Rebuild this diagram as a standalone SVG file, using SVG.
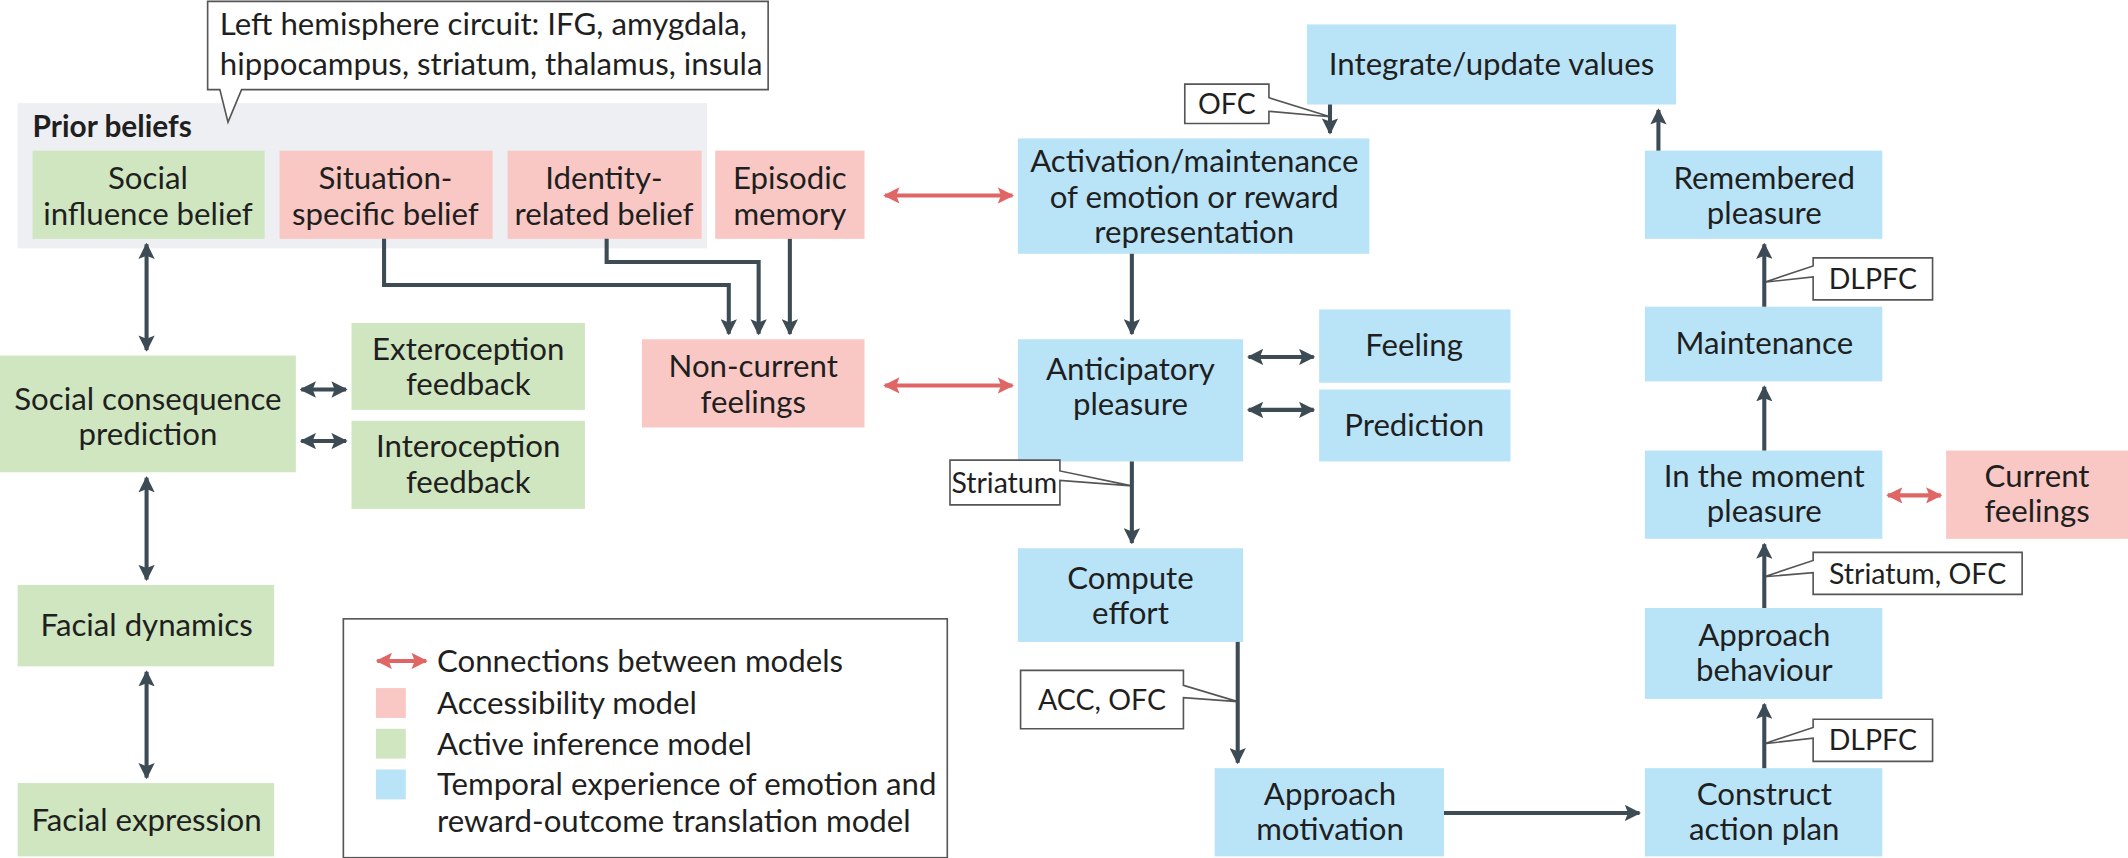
<svg xmlns="http://www.w3.org/2000/svg" width="2128" height="858" viewBox="0 0 2128 858">
<defs>
<style>
text{font-family:Lato,"Open Sans","Liberation Sans",sans-serif;font-size:23px;fill:#1f1f1f;text-anchor:middle}
.g{fill:#cfe6c0}.p{fill:#f9c8c4}.b{fill:#b9e4f8}
.c{fill:#fff;stroke:#555;stroke-width:1.2}
.l{fill:none;stroke:#3d4b55;stroke-width:3}
.r{fill:none;stroke:#e06666;stroke-width:3}
.lt{text-anchor:start}
.s{font-size:21px}
</style>
<marker id="a" viewBox="0 0 10 10" refX="9" refY="5" markerWidth="4" markerHeight="4" orient="auto-start-reverse"><path d="M0,0L10,5L0,10L2,5z" fill="#3d4b55"/></marker>
<marker id="ar" viewBox="0 0 10 10" refX="9" refY="5" markerWidth="4" markerHeight="4" orient="auto-start-reverse"><path d="M0,0L10,5L0,10L2,5z" fill="#e06666"/></marker>
</defs>
<rect width="2128" height="858" fill="#fff"/>
<g transform="scale(1.35714)">
<g id="prior"><rect x="13" y="76" width="508" height="107" fill="#eeeff3"/><text x="24" y="101" class="lt" style="font-weight:bold;font-size:22px">Prior beliefs</text></g>
<g id="callout-left"><path class="c" d="M153,1H566V66H178L168,90L162,66H153Z"/><text x="162" y="26" class="lt">Left hemisphere circuit: IFG, amygdala,</text><text x="162" y="55" class="lt">hippocampus, striatum, thalamus, insula</text></g>
<g id="social-influence"><rect class="g" x="24" y="111" width="171" height="65"/><text x="109" y="139">Social</text><text x="109" y="166">influence belief</text></g>
<g id="situation"><rect class="p" x="206" y="111" width="157" height="65"/><text x="284" y="139">Situation-</text><text x="284" y="166">specific belief</text></g>
<g id="identity"><rect class="p" x="374" y="111" width="143" height="65"/><text x="445" y="139">Identity-</text><text x="445" y="166">related belief</text></g>
<g id="episodic"><rect class="p" x="527" y="111" width="110" height="65"/><text x="582" y="139">Episodic</text><text x="582" y="166">memory</text></g>
<g id="activation"><rect class="b" x="750" y="102" width="259" height="85"/><text x="880" y="127">Activation/maintenance</text><text x="880" y="153">of emotion or reward</text><text x="880" y="179">representation</text></g>
<g id="integrate"><rect class="b" x="963" y="18" width="272" height="59"/><text x="1099" y="55">Integrate/update values</text></g>
<g id="ofc-top"><path class="c" d="M873,62H935V72L980,86L935,82V91H873Z"/><text x="904" y="84" class="s">OFC</text></g>
<g id="social-consequence"><rect class="g" x="0" y="262" width="218" height="86"/><text x="109" y="302">Social consequence</text><text x="109" y="328">prediction</text></g>
<g id="extero"><rect class="g" x="259" y="238" width="172" height="64"/><text x="345" y="265">Exteroception</text><text x="345" y="291">feedback</text></g>
<g id="intero"><rect class="g" x="259" y="310" width="172" height="65"/><text x="345" y="337">Interoception</text><text x="345" y="363">feedback</text></g>
<g id="noncurrent"><rect class="p" x="473" y="250" width="164" height="65"/><text x="555" y="278">Non-current</text><text x="555" y="304">feelings</text></g>
<g id="anticipatory"><rect class="b" x="750" y="250" width="166" height="90"/><text x="833" y="280">Anticipatory</text><text x="833" y="306">pleasure</text></g>
<g id="feeling"><rect class="b" x="972" y="228" width="141" height="54"/><text x="1042" y="262">Feeling</text></g>
<g id="prediction"><rect class="b" x="972" y="287" width="141" height="53"/><text x="1042" y="321">Prediction</text></g>
<g id="striatum"><path class="c" d="M700,339H781V347L834,358L781,354V372H700Z"/><text x="740" y="363" class="s">Striatum</text></g>
<g id="compute"><rect class="b" x="750" y="404" width="166" height="69"/><text x="833" y="434">Compute</text><text x="833" y="460">effort</text></g>
<g id="acc-ofc"><path class="c" d="M752,494H872V505L912,517L872,514V537H752Z"/><text x="812" y="523" class="s">ACC, OFC</text></g>
<g id="approach-motivation"><rect class="b" x="895" y="566" width="169" height="65"/><text x="980" y="593">Approach</text><text x="980" y="619">motivation</text></g>
<g id="construct"><rect class="b" x="1212" y="566" width="175" height="65"/><text x="1300" y="593">Construct</text><text x="1300" y="619">action plan</text></g>
<g id="approach-behaviour"><rect class="b" x="1212" y="448" width="175" height="67"/><text x="1300" y="476">Approach</text><text x="1300" y="502">behaviour</text></g>
<g id="dlpfc-low"><path class="c" d="M1336,530H1424V561H1336V544L1300,548L1336,536Z"/><text x="1380" y="553" class="s">DLPFC</text></g>
<g id="striatum-ofc"><path class="c" d="M1336,407H1490V438H1336V422L1300,425L1336,413Z"/><text x="1413" y="430" class="s">Striatum, OFC</text></g>
<g id="moment"><rect class="b" x="1212" y="332" width="175" height="65"/><text x="1300" y="359">In the moment</text><text x="1300" y="385">pleasure</text></g>
<g id="current"><rect class="p" x="1434" y="332" width="134" height="65"/><text x="1501" y="359">Current</text><text x="1501" y="385">feelings</text></g>
<g id="maintenance"><rect class="b" x="1212" y="226" width="175" height="55"/><text x="1300" y="261">Maintenance</text></g>
<g id="dlpfc-up"><path class="c" d="M1336,190H1424V221H1336V204L1300,208L1336,196Z"/><text x="1380" y="213" class="s">DLPFC</text></g>
<g id="remembered"><rect class="b" x="1212" y="111" width="175" height="65"/><text x="1300" y="139">Remembered</text><text x="1300" y="165">pleasure</text></g>
<g id="facial-dynamics"><rect class="g" x="13" y="431" width="189" height="60"/><text x="108" y="469">Facial dynamics</text></g>
<g id="facial-expression"><rect class="g" x="13" y="577" width="189" height="54"/><text x="108" y="612">Facial expression</text></g>
<g id="legend"><rect x="253" y="456" width="445" height="176" fill="#fff" stroke="#555" stroke-width="1.2"/>
<line class="r" x1="278" y1="487" x2="314" y2="487" marker-start="url(#ar)" marker-end="url(#ar)"/>
<text x="322" y="495" class="lt">Connections between models</text>
<rect class="p" x="277" y="507" width="22" height="22"/><text x="322" y="526" class="lt">Accessibility model</text>
<rect class="g" x="277" y="537" width="22" height="22"/><text x="322" y="556" class="lt">Active inference model</text>
<rect class="b" x="277" y="567" width="22" height="22"/><text x="322" y="586" class="lt">Temporal experience of emotion and</text><text x="322" y="613" class="lt">reward-outcome translation model</text></g>
<g id="connectors">
<line class="l" x1="108" y1="180" x2="108" y2="258" marker-start="url(#a)" marker-end="url(#a)"/>
<line class="l" x1="222" y1="287" x2="255" y2="287" marker-start="url(#a)" marker-end="url(#a)"/>
<line class="l" x1="222" y1="325" x2="255" y2="325" marker-start="url(#a)" marker-end="url(#a)"/>
<line class="l" x1="108" y1="352" x2="108" y2="427" marker-start="url(#a)" marker-end="url(#a)"/>
<line class="l" x1="108" y1="495" x2="108" y2="573" marker-start="url(#a)" marker-end="url(#a)"/>
<path class="l" d="M283,176V210H537V246" marker-end="url(#a)"/>
<path class="l" d="M447,176V193H559V246" marker-end="url(#a)"/>
<path class="l" d="M582,176V246" marker-end="url(#a)"/>
<line class="r" x1="652" y1="144" x2="746" y2="144" marker-start="url(#ar)" marker-end="url(#ar)"/>
<line class="r" x1="652" y1="284" x2="746" y2="284" marker-start="url(#ar)" marker-end="url(#ar)"/>
<line class="r" x1="1391" y1="365" x2="1430" y2="365" marker-start="url(#ar)" marker-end="url(#ar)"/>
<path class="l" d="M834,187V246" marker-end="url(#a)"/>
<line class="l" x1="920" y1="263" x2="968" y2="263" marker-start="url(#a)" marker-end="url(#a)"/>
<line class="l" x1="920" y1="302" x2="968" y2="302" marker-start="url(#a)" marker-end="url(#a)"/>
<path class="l" d="M834,340V400" marker-end="url(#a)"/>
<path class="l" d="M912,473V562" marker-end="url(#a)"/>
<path class="l" d="M1064,599H1208" marker-end="url(#a)"/>
<path class="l" d="M1300,566V519" marker-end="url(#a)"/>
<path class="l" d="M1300,448V401" marker-end="url(#a)"/>
<path class="l" d="M1300,332V285" marker-end="url(#a)"/>
<path class="l" d="M1300,226V180" marker-end="url(#a)"/>
<path class="l" d="M1222,111V81" marker-end="url(#a)"/>
<path class="l" d="M980,77V98" marker-end="url(#a)"/>
</g>
</g>
</svg>
